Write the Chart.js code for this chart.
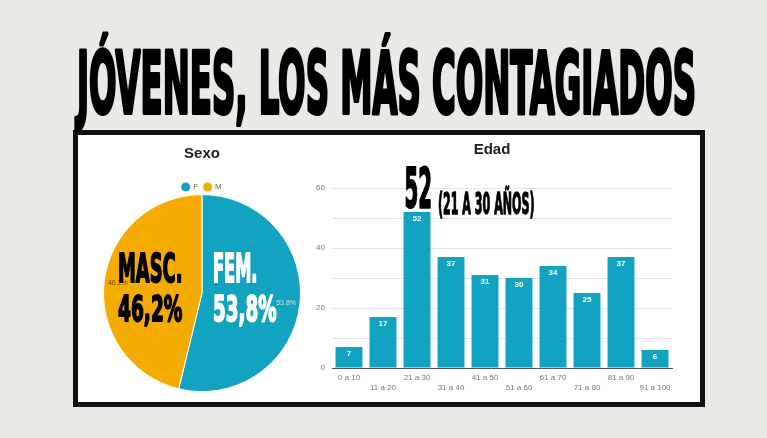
<!DOCTYPE html>
<html>
<head>
<meta charset="utf-8">
<script src="https://cdn.jsdelivr.net/npm/chart.js@4.4.1/dist/chart.umd.min.js"></script>
<style>
  html, body { margin: 0; padding: 0; }
  body { width: 767px; height: 438px; background: #e9e9e6; position: relative; overflow: hidden; font-family: "Liberation Sans", Arial, sans-serif; }
  #box { position: absolute; left: 73px; top: 130px; width: 622px; height: 267px; background: #fff; border: 5px solid #111; }
  #pie { position: absolute; left: 80px; top: 134px; }
  #bar { position: absolute; left: 312px; top: 134px; }
  svg#overlay { position: absolute; left: 0; top: 0; pointer-events: none; }
  .heavy { font-family: "Liberation Sans Narrow", "DejaVu Sans Condensed", "Liberation Sans", sans-serif; font-weight: 700; stroke-linejoin: round; }
</style>
</head>
<body>
<div id="box"></div>
<canvas id="pie" width="244" height="268"></canvas>
<canvas id="bar" width="366" height="268"></canvas>
<svg id="overlay" width="767" height="438" xmlns="http://www.w3.org/2000/svg">
  <text class="heavy" x="77" y="113" font-size="86" textLength="619" lengthAdjust="spacingAndGlyphs" fill="#000" stroke="#000" stroke-width="4">JÓVENES, LOS MÁS CONTAGIADOS</text>
  <text class="heavy" x="404.5" y="206.8" font-size="56" textLength="27.5" lengthAdjust="spacingAndGlyphs" fill="#000" stroke="#000" stroke-width="2">52</text>
  <text class="heavy" x="438" y="214.3" font-size="30.5" textLength="96.5" lengthAdjust="spacingAndGlyphs" fill="#000" stroke="#000" stroke-width="1.3">(21 A 30 AÑOS)</text>
  <text class="heavy" x="118" y="282" font-size="39.5" textLength="64.5" lengthAdjust="spacingAndGlyphs" fill="#000" stroke="#000" stroke-width="1.8">MASC.</text>
  <text class="heavy" x="118" y="321" font-size="36" textLength="64.5" lengthAdjust="spacingAndGlyphs" fill="#000" stroke="#000" stroke-width="1.8">46,2%</text>
  <text class="heavy" x="213" y="282" font-size="39.5" textLength="44.5" lengthAdjust="spacingAndGlyphs" fill="#fff" stroke="#fff" stroke-width="1.8">FEM.</text>
  <text class="heavy" x="213" y="321" font-size="36" textLength="63.5" lengthAdjust="spacingAndGlyphs" fill="#fff" stroke="#fff" stroke-width="1.8">53,8%</text>
</svg>
<script>
// ---- data ----
const sexLabels = ["F", "M"];
const sexValues = [53.8, 46.2];
const sexSliceLabels = ["53.8%", "46.2%"];

const ageLabels = ["0 a 10", "11 a 20", "21 a 30", "31 a 40", "41 a 50", "51 a 60", "61 a 70", "71 a 80", "81 a 90", "91 a 100"];
const ageValues = [7, 17, 52, 37, 31, 30, 34, 25, 37, 6];
const ageTicks = [0, 20, 40, 60];

const TEAL = "#12a3c1";
const ORANGE = "#f6ab00";
const FONT = "'Liberation Sans', Arial, sans-serif";

// ---- pie ----
const pieSliceLabelPlugin = {
  id: "sliceLabels",
  afterDatasetsDraw(chart) {
    const ctx = chart.ctx;
    const meta = chart.getDatasetMeta(0);
    ctx.save();
    ctx.font = "7px " + FONT;
    ctx.textAlign = "center";
    ctx.textBaseline = "middle";
    meta.data.forEach((arc, i) => {
      const mid = (arc.startAngle + arc.endAngle) / 2;
      const r = arc.outerRadius * 0.86;
      ctx.fillStyle = i === 0 ? "rgba(225,235,240,0.85)" : "rgba(60,40,0,0.75)";
      ctx.fillText(sexSliceLabels[i], arc.x + Math.cos(mid) * r, arc.y + Math.sin(mid) * r);
    });
    ctx.restore();
  }
};

new Chart(document.getElementById("pie"), {
  type: "pie",
  data: {
    labels: sexLabels,
    datasets: [{
      data: sexValues,
      backgroundColor: [TEAL, ORANGE],
      borderColor: "#ffffff",
      borderWidth: 1,
      radius: 98.5,
      clip: false
    }]
  },
  options: {
    responsive: false,
    animation: false,
    layout: { padding: { top: 0, bottom: 16.8, left: 0, right: 0 } },
    plugins: {
      title: {
        display: true, text: "Sexo", color: "#222",
        font: { family: FONT, size: 15, weight: "bold" },
        padding: { top: 11, bottom: 14 }
      },
      legend: {
        display: true, position: "top",
        labels: {
          usePointStyle: true, pointStyle: "circle", boxWidth: 7, boxHeight: 7,
          padding: 6, color: "#666", font: { family: FONT, size: 8 }
        }
      },
      tooltip: { enabled: false }
    }
  },
  plugins: [pieSliceLabelPlugin]
});

// ---- bar ----
const barValuePlugin = {
  id: "barValues",
  afterDatasetsDraw(chart) {
    const ctx = chart.ctx;
    const meta = chart.getDatasetMeta(0);
    ctx.save();
    ctx.font = "bold 8px " + FONT;
    ctx.fillStyle = "#ffffff";
    ctx.textAlign = "center";
    ctx.textBaseline = "middle";
    meta.data.forEach((bar, i) => {
      ctx.fillText(String(ageValues[i]), bar.x, bar.y + 6.5);
    });
    ctx.restore();
  }
};

new Chart(document.getElementById("bar"), {
  type: "bar",
  data: {
    labels: ageLabels,
    datasets: [{
      data: ageValues,
      backgroundColor: TEAL,
      borderWidth: 0,
      barPercentage: 0.9,
      categoryPercentage: 0.88
    }]
  },
  options: {
    responsive: false,
    animation: false,
    layout: { padding: { top: 0, bottom: 0, left: 0, right: 6 } },
    plugins: {
      legend: { display: false },
      tooltip: { enabled: false },
      title: {
        display: true, text: "Edad", color: "#222",
        font: { family: FONT, size: 15, weight: "bold" },
        padding: { top: 7, bottom: 29 }
      }
    },
    scales: {
      x: {
        grid: { display: true, drawOnChartArea: false, drawTicks: false },
        border: { display: true, color: "#555", width: 1 },
        ticks: {
          autoSkip: false, maxRotation: 0, minRotation: 0, padding: 5,
          color: "#777", font: { family: FONT, size: 8 },
          callback: (v, i) => (i % 2 === 0 ? ageLabels[i] : ["", ageLabels[i]])
        },
        afterFit: (s) => { s.height = 34; }
      },
      y: {
        min: 0, max: 60,
        border: { display: false },
        grid: {
          drawTicks: false,
          color: (c) => (c.tick && c.tick.value === 0 ? "#555" : "#e2e2e2")
        },
        ticks: {
          stepSize: 10, padding: 7, color: "#777", font: { family: FONT, size: 8 },
          callback: (v) => (ageTicks.includes(v) ? String(v) : "")
        },
        afterFit: (s) => { s.width = 20; }
      }
    }
  },
  plugins: [barValuePlugin]
});
</script>
</body>
</html>
